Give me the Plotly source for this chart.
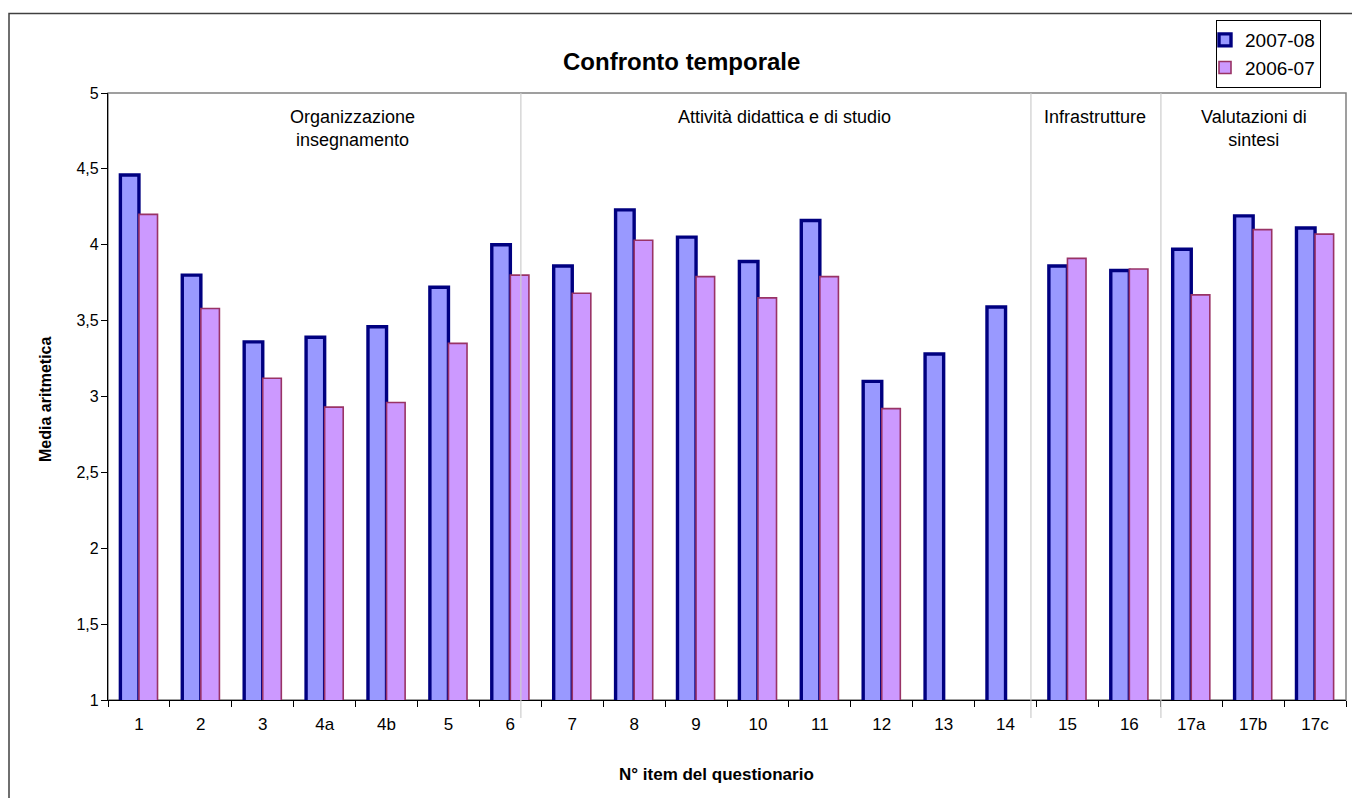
import plotly.graph_objects as go

categories = ["1", "2", "3", "4a", "4b", "5", "6", "7", "8", "9", "10", "11", "12", "13", "14", "15", "16", "17a", "17b", "17c"]
values_2007_08 = [4.46, 3.80, 3.36, 3.39, 3.46, 3.72, 4.00, 3.86, 4.23, 4.05, 3.89, 4.16, 3.10, 3.28, 3.59, 3.86, 3.83, 3.97, 4.19, 4.11]
values_2006_07 = [4.20, 3.58, 3.12, 2.93, 2.96, 3.35, 3.80, 3.68, 4.03, 3.79, 3.65, 3.79, 2.92, None, None, 3.91, 3.84, 3.67, 4.10, 4.07]
y_tickvals = [1, 1.5, 2, 2.5, 3, 3.5, 4, 4.5, 5]
y_ticktext = ["1", "1,5", "2", "2,5", "3", "3,5", "4", "4,5", "5"]
groups = ["Organizzazione<br>insegnamento", "Attività didattica e di studio", "Infrastrutture", "Valutazioni di<br>sintesi"]
separator_pos = [6.17, 14.41, 16.51]  # category-index positions of the group separators

FONT = "Liberation Sans, Arial, sans-serif"
W, H = 1352, 798
L, R, T, B = 108, 6, 93, 98
pw, ph = W - L - R, H - T - B

def px_x(px):
    return (px - L) / pw

def px_y(py):
    return (H - B - py) / ph

fig = go.Figure()
fig.add_trace(go.Bar(
    x=categories, y=values_2007_08, name="2007-08",
    marker=dict(color="#9999FF", line=dict(color="#000080", width=3.4)),
))
fig.add_trace(go.Bar(
    x=categories, y=values_2006_07, name="2006-07",
    marker=dict(color="#CC99FF", line=dict(color="#993366", width=1.6)),
))

shapes = []
# plot-area border (gray)
shapes.append(dict(type="rect", xref="paper", yref="paper", x0=0, x1=1, y0=0, y1=1,
                   line=dict(color="#808080", width=1.5), layer="below"))
# outer chart border
shapes.append(dict(type="rect", xref="paper", yref="paper",
                   x0=px_x(9), x1=px_x(1370), y0=px_y(820), y1=px_y(13.5),
                   line=dict(color="#404040", width=1.5), layer="below"))
n = len(categories)
for p in separator_pos:
    xp = (p + 0.5) / n
    shapes.append(dict(type="line", xref="paper", yref="paper", x0=xp, x1=xp,
                       y0=px_y(718), y1=1, line=dict(color="#CCCCCC", width=1.2), layer="above"))

annotations = []
annotations.append(dict(text="<b>Confronto temporale</b>", xref="paper", yref="paper",
                        x=px_x(681), y=px_y(62), xanchor="center", yanchor="middle",
                        showarrow=False, font=dict(family=FONT, size=24, color="black")))
group_pos = [(352, 128), (784, 116.5), (1095, 116.5), (1254, 128)]
for g, (gx, gy) in zip(groups, group_pos):
    annotations.append(dict(text=g, xref="paper", yref="paper", x=px_x(gx), y=px_y(gy),
                            xanchor="center", yanchor="middle", showarrow=False,
                            font=dict(family=FONT, size=18, color="black")))
annotations.append(dict(text="<b>N° item del questionario</b>", xref="paper", yref="paper",
                        x=px_x(716), y=px_y(774), xanchor="center", yanchor="middle",
                        showarrow=False, font=dict(family=FONT, size=17, color="black")))
annotations.append(dict(text="<b>Media aritmetica</b>", xref="paper", yref="paper",
                        x=px_x(45), y=px_y(400), xanchor="center", yanchor="middle",
                        textangle=-90, showarrow=False,
                        font=dict(family=FONT, size=16, color="black")))

fig.update_layout(
    width=W, height=H,
    margin=dict(l=L, r=R, t=T, b=B, pad=0),
    paper_bgcolor="white", plot_bgcolor="white",
    barmode="group", bargap=0.4, bargroupgap=0,
    font=dict(family=FONT, size=16, color="black"),
    showlegend=True,
    legend=dict(x=px_x(1216), y=px_y(20), xanchor="left", yanchor="top",
                bgcolor="white", bordercolor="black", borderwidth=1,
                font=dict(family=FONT, size=19, color="black"),
                itemwidth=30, tracegroupgap=0, indentation=-12),
    shapes=shapes,
    annotations=annotations,
    xaxis=dict(type="category", showline=True, linecolor="black", linewidth=1.2,
               ticks="outside", ticklen=6, tickcolor="black", tickson="boundaries",
               tickfont=dict(family=FONT, size=17, color="black"), ticklabelstandoff=8,
               showgrid=False, zeroline=False, fixedrange=True),
    yaxis=dict(range=[1, 5], tickvals=y_tickvals, ticktext=y_ticktext,
               showline=True, linecolor="black", linewidth=1.2,
               ticks="outside", ticklen=6, tickcolor="black",
               tickfont=dict(family=FONT, size=16, color="black"), ticklabelstandoff=-1,
               showgrid=False, zeroline=False, fixedrange=True),
)

fig.write_html("out.html", post_script="document.body.style.margin='0';",
               config={"displayModeBar": False})
